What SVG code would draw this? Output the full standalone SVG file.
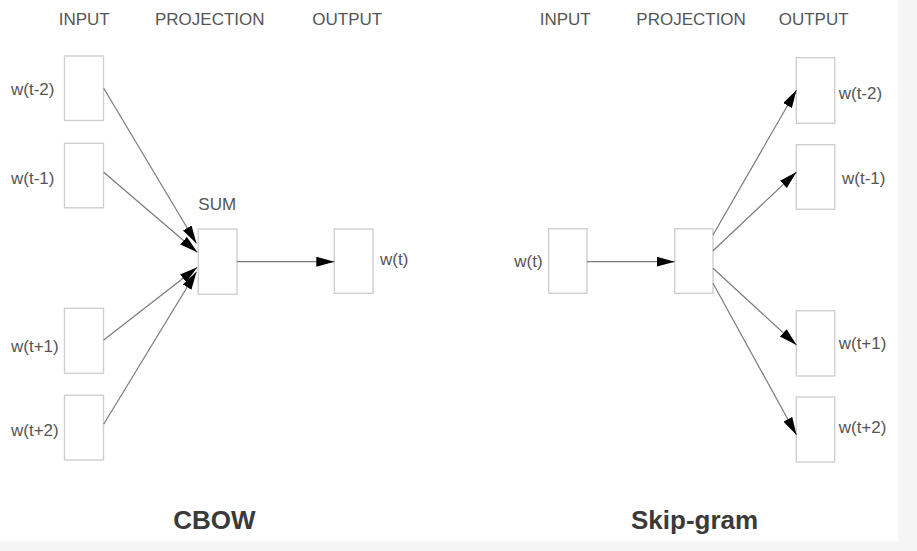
<svg xmlns="http://www.w3.org/2000/svg" width="917" height="551" viewBox="0 0 917 551">
<style>
.bg{fill:#f5f5f5}
.box{fill:#ffffff;stroke:#cfcfcf;stroke-width:1.4}
.t{font-family:"Liberation Sans",Arial,sans-serif;font-size:17px;fill:#555555}
.title{font-family:"Liberation Sans",Arial,sans-serif;font-size:26px;font-weight:bold;fill:#3a3a3a}
.edge{stroke:#7a7a7a;stroke-width:1.2;fill:none;marker-end:url(#arr)}
</style>
<defs>
<marker id="arr" markerUnits="userSpaceOnUse" markerWidth="19" markerHeight="11" refX="18" refY="5" orient="auto">
<path d="M0,0 L18,5 L0,10 Z" fill="#000000"/>
</marker>
</defs>
<rect x="0" y="0" width="917" height="551" class="bg"/>
<rect x="0" y="0" width="898" height="541.5" fill="#ffffff"/>

<g id="headers">
<text class="t" x="58.7" y="25.3">INPUT</text>
<text class="t" x="155" y="25.3">PROJECTION</text>
<text class="t" x="312.3" y="25.3">OUTPUT</text>
<text class="t" x="539.7" y="25.3">INPUT</text>
<text class="t" x="636.3" y="25.3">PROJECTION</text>
<text class="t" x="778.7" y="25.3">OUTPUT</text>
</g>

<g id="cbow-in-tm2"><rect class="box" x="64.5" y="56" width="39" height="64.5"/><text class="t" x="11" y="94.5">w(t-2)</text></g>
<g id="cbow-in-tm1"><rect class="box" x="64.5" y="143.3" width="39" height="64.5"/><text class="t" x="11" y="184.3">w(t-1)</text></g>
<g id="cbow-in-tp1"><rect class="box" x="64.5" y="308.3" width="39" height="65"/><text class="t" x="11" y="351.5">w(t+1)</text></g>
<g id="cbow-in-tp2"><rect class="box" x="64.5" y="395.3" width="39" height="64.7"/><text class="t" x="11" y="436">w(t+2)</text></g>
<g id="cbow-sum"><rect class="box" x="198.3" y="229" width="38.7" height="65.3"/><text class="t" x="198.3" y="210">SUM</text></g>
<g id="cbow-out"><rect class="box" x="334.3" y="229" width="38.7" height="64.3"/><text class="t" x="380" y="265">w(t)</text></g>
<g id="cbow-title"><text class="title" x="173.3" y="529">CBOW</text></g>

<g id="sg-in"><rect class="box" x="548.7" y="228.7" width="38.3" height="64.6"/><text class="t" x="514.3" y="267">w(t)</text></g>
<g id="sg-proj"><rect class="box" x="674.7" y="228.7" width="38.3" height="64.6"/></g>
<g id="sg-out-tm2"><rect class="box" x="796.3" y="57.7" width="38.4" height="65.6"/><text class="t" x="838.7" y="99">w(t-2)</text></g>
<g id="sg-out-tm1"><rect class="box" x="796.3" y="144.7" width="38.4" height="64.6"/><text class="t" x="842" y="184">w(t-1)</text></g>
<g id="sg-out-tp1"><rect class="box" x="796.3" y="310.7" width="38.4" height="65.3"/><text class="t" x="838.7" y="349">w(t+1)</text></g>
<g id="sg-out-tp2"><rect class="box" x="796.3" y="397" width="38.4" height="65"/><text class="t" x="838.7" y="433.3">w(t+2)</text></g>
<g id="sg-title"><text class="title" x="631" y="529">Skip-gram</text></g>

<g id="connectors">
<line class="edge" x1="103.7" y1="88.3" x2="196.5" y2="243.5"/>
<line class="edge" x1="103.7" y1="172.3" x2="197.3" y2="252.3"/>
<line class="edge" x1="103.7" y1="340" x2="197.3" y2="267.3"/>
<line class="edge" x1="103.7" y1="424.3" x2="196.5" y2="271.7"/>
<line class="edge" x1="237" y1="261.7" x2="334.3" y2="261.7"/>
<line class="edge" x1="587" y1="261.7" x2="674.7" y2="261.7"/>
<line class="edge" x1="713" y1="235" x2="796.5" y2="90"/>
<line class="edge" x1="713" y1="250.7" x2="796.5" y2="172"/>
<line class="edge" x1="713" y1="268.3" x2="796.5" y2="345"/>
<line class="edge" x1="713" y1="283.3" x2="796.5" y2="435"/>
</g>
</svg>
